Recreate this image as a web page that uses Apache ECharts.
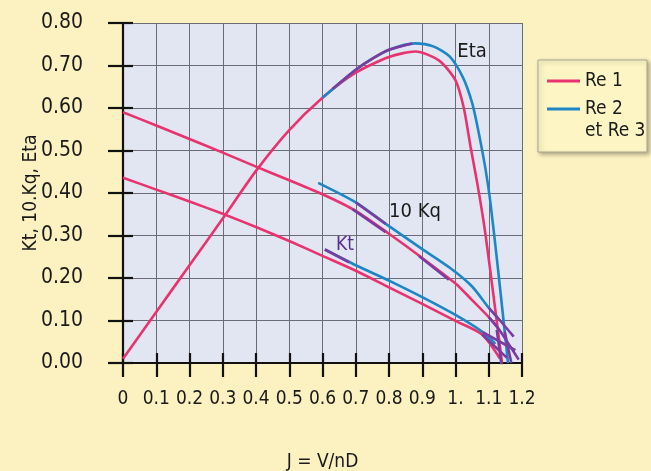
<!DOCTYPE html>
<html><head><meta charset="utf-8">
<script src="https://cdn.jsdelivr.net/npm/echarts@6/dist/echarts.min.js"></script>
<style>html,body{margin:0;padding:0;background:#fcf1c0;}#c{width:651px;height:471px;}</style>
</head><body><div id="c"></div>
<script>
// ---- data (J, value) ----
const xTickLabels = ['0','0.1','0.2','0.3','0.4','0.5','0.6','0.7','0.8','0.9','1.','1.1','1.2'];
const yTickLabels = ['0.00','0.10','0.20','0.30','0.40','0.50','0.60','0.70','0.80'];

const etaRe1 = [[0,0.01],[0.1,0.12],[0.2,0.23],[0.3,0.34],[0.4,0.452],[0.5,0.548],[0.6,0.624],[0.7,0.683],[0.8,0.72],[0.88,0.733],[0.95,0.712],[1.0,0.665],[1.025,0.6],[1.045,0.51],[1.065,0.425],[1.085,0.33],[1.105,0.215],[1.14,0.0]];
const kqRe1  = [[0,0.59],[0.1,0.559],[0.2,0.527],[0.3,0.495],[0.4,0.462],[0.5,0.43],[0.6,0.397],[0.7,0.358],[0.8,0.304],[0.9,0.247],[1.0,0.187],[1.05,0.148],[1.1,0.108],[1.13,0.08]];
const ktRe1  = [[0,0.436],[0.1,0.408],[0.2,0.38],[0.3,0.351],[0.4,0.32],[0.5,0.287],[0.6,0.252],[0.7,0.217],[0.8,0.178],[0.9,0.139],[1.0,0.099],[1.08,0.067],[1.134,0.01]];

const etaRe2 = [[0.6,0.624],[0.66,0.664],[0.7,0.69],[0.75,0.716],[0.8,0.737],[0.878,0.752],[0.933,0.745],[0.983,0.721],[1.023,0.671],[1.05,0.612],[1.068,0.549],[1.089,0.462],[1.104,0.384],[1.128,0.22],[1.158,0.0]];
const kqRe2  = [[0.587,0.424],[0.7,0.378],[0.8,0.322],[0.9,0.268],[0.983,0.224],[1.05,0.18],[1.1,0.13],[1.134,0.1]];
const ktRe2  = [[0.607,0.267],[0.7,0.23],[0.8,0.194],[0.9,0.155],[1.0,0.113],[1.083,0.072],[1.12,0.045]];

const etaRe3 = [[0.63,0.645],[0.7,0.69],[0.75,0.716],[0.8,0.737],[0.87,0.752],[0.9,null],[1.124,0.078],[1.139,-0.008],[1.14,null],[1.148,0.074],[1.168,0.0]];
const kqRe3  = [[0.7,0.378],[0.79,0.327],[0.8,null],[0.69,0.362],[0.79,0.308],[0.8,null],[0.89,0.252],[0.98,0.196],[0.99,null],[1.1,0.13],[1.134,0.1],[1.175,0.062],[1.18,null],[1.1,0.108],[1.13,0.08],[1.19,0.008]];
const ktRe3  = [[0.607,0.267],[0.68,0.237],[0.7,null],[1.083,0.072],[1.18,0.03],[1.19,null],[1.08,0.067],[1.155,0.012]];

const PINK = '#e8336f', BLUE = '#1f86c6', PURPLE = '#7a3d9f';
const FONT = "'DejaVu Sans Condensed','Liberation Sans Narrow',sans-serif";

const chart = echarts.init(document.getElementById('c'), null, {renderer:'canvas'});

function mk(name, data, color, z){
  return {name, type:'line', data, color, z, smooth:0.25, showSymbol:false, symbol:'none',
          connectNulls:false, lineStyle:{width:2.6, color}, xAxisIndex:0, yAxisIndex:0, animation:false};
}

const series = [
  mk('Re 1', etaRe1, PINK, 3), mk('Re 1', kqRe1, PINK, 3), mk('Re 1', ktRe1, PINK, 3),
  mk('Re 2', etaRe2, BLUE, 4), mk('Re 2', kqRe2, BLUE, 4), mk('Re 2', ktRe2, BLUE, 4),
  mk('Re 3', etaRe3, PURPLE, 5), mk('Re 3', kqRe3, PURPLE, 5), mk('Re 3', ktRe3, PURPLE, 5)
];

const baseX = {type:'value', min:0, max:1.2, interval:0.1, gridIndex:0};
const baseY = {type:'value', min:0, max:0.8, interval:0.1, gridIndex:0};

chart.setOption({
  backgroundColor:'#fcf1c0',
  animation:false,
  textStyle:{fontFamily:FONT},
  grid:{left:123, top:23, right:129, bottom:108, show:true, backgroundColor:'#e2e5f2', borderWidth:0,
        containLabel:false, outerBoundsMode:'none'},
  legend:{
    data:['Re 1','Re 2'], orient:'vertical', left:538, top:60, z:20,
    icon:'rect', itemWidth:33, itemHeight:3, itemGap:4, itemTextGap:6,
    padding:[9,10,10,9],
    backgroundColor:'transparent', borderWidth:0,
    textStyle:{fontFamily:FONT, fontSize:19, color:'#1a1a1a', lineHeight:24},
    selectedMode:false
  },
  xAxis:[
    Object.assign({}, baseX, {
      position:'bottom',
      name:'J = V/nD', nameLocation:'middle', nameGap:90, nameMoveOverlap:false,
      nameTextStyle:{fontFamily:FONT, fontSize:19, color:'#1a1a1a'},
      axisLine:{show:true, onZero:false, lineStyle:{color:'#111', width:2.2}},
      axisTick:{show:true, inside:false, length:14, lineStyle:{color:'#111', width:2.2}},
      axisLabel:{margin:27, fontFamily:FONT, fontSize:19, color:'#1a1a1a',
        formatter:function(v){return xTickLabels[Math.round(v*10)];}},
      splitLine:{show:true, lineStyle:{color:'#6c6c78', width:1}}
    }),
    Object.assign({}, baseX, {
      position:'bottom', offset:0,
      axisLine:{show:false}, axisLabel:{show:false}, splitLine:{show:false},
      axisTick:{show:true, inside:true, length:10, lineStyle:{color:'#111', width:2.2}}
    })
  ],
  yAxis:[
    Object.assign({}, baseY, {
      position:'left',
      name:'Kt, 10.Kq, Eta', nameLocation:'middle', nameGap:82, nameRotate:90, nameMoveOverlap:false,
      nameTextStyle:{fontFamily:FONT, fontSize:19, color:'#1a1a1a'},
      axisLine:{show:true, onZero:false, lineStyle:{color:'#111', width:2.2}},
      axisTick:{show:true, inside:false, length:15, lineStyle:{color:'#111', width:2.2}},
      axisLabel:{margin:40, fontFamily:FONT, fontSize:21, color:'#1a1a1a',
        formatter:function(v){return yTickLabels[Math.round(v*10)];}},
      splitLine:{show:true, lineStyle:{color:'#6c6c78', width:1}}
    }),
    Object.assign({}, baseY, {
      position:'left', offset:0,
      axisLine:{show:false}, axisLabel:{show:false}, splitLine:{show:false},
      axisTick:{show:true, inside:true, length:10, lineStyle:{color:'#111', width:2.2}}
    })
  ],
  series,
  graphic:[
    {type:'rect', z:1, shape:{x:538, y:60, width:109, height:92},
     style:{fill:'#fdf6c4', stroke:'#a8a690', lineWidth:1, shadowBlur:4, shadowColor:'rgba(0,0,0,0.3)', shadowOffsetX:2, shadowOffsetY:2}},
    {type:'text', z:100, x:585, y:131, style:{text:'et Re 3', font:"19px " + FONT, fill:'#1a1a1a', verticalAlign:'middle'}},
    {type:'text', z:100, x:472, y:52, style:{text:'Eta', font:"20px " + FONT, fill:'#1a1a1a', align:'center', verticalAlign:'middle'}},
    {type:'text', z:100, x:415, y:212, style:{text:'10 Kq', font:"20px " + FONT, fill:'#1a1a1a', align:'center', verticalAlign:'middle'}},
    {type:'text', z:100, x:345, y:245, style:{text:'Kt', font:"19px " + FONT, fill:'#5a2f8a', align:'center', verticalAlign:'middle'}}
  ]
});
</script></body></html>
